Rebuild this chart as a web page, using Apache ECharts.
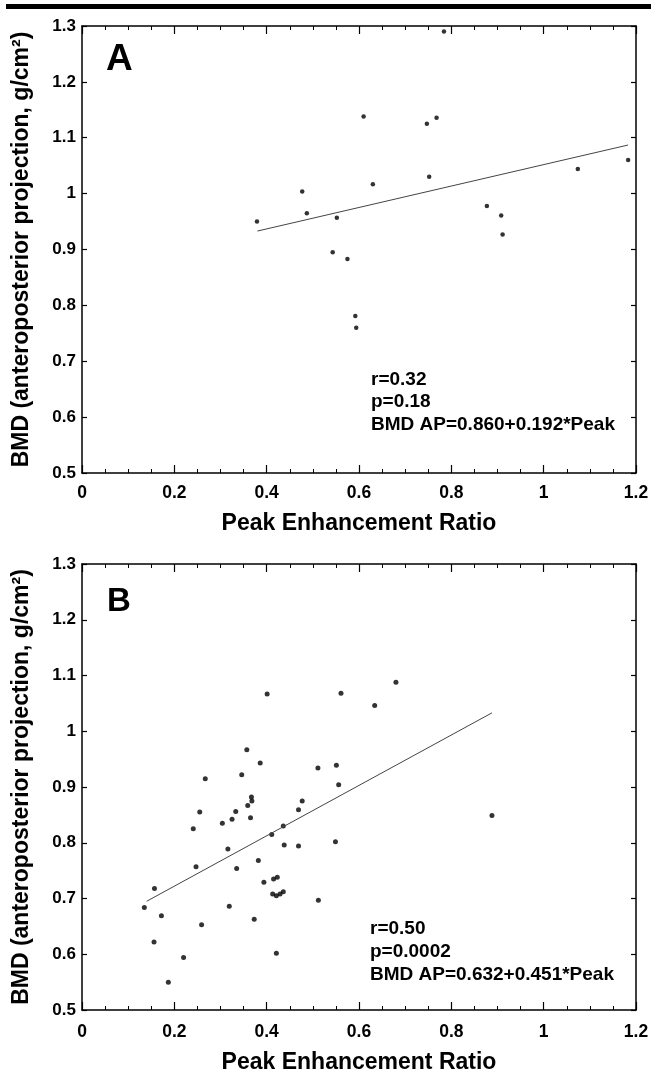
<!DOCTYPE html>
<html>
<head>
<meta charset="utf-8">
<script src="https://cdn.jsdelivr.net/npm/echarts@6/dist/echarts.min.js"></script>
<style>
  html, body { margin: 0; padding: 0; background: #fff; }
  #main { width: 651px; height: 1074px; }
</style>
</head>
<body>
<div id="main"></div>
<script>
// panel A: peak enhancement ratio vs BMD AP
const pointsA = [
  [0.379, 0.950], [0.477, 1.004], [0.487, 0.965], [0.552, 0.957], [0.543, 0.895],
  [0.575, 0.883], [0.610, 1.138], [0.630, 1.017], [0.784, 1.290], [0.747, 1.125],
  [0.768, 1.136], [0.752, 1.030], [0.877, 0.978], [0.908, 0.961], [0.911, 0.927],
  [1.074, 1.044], [1.183, 1.060], [0.592, 0.781], [0.594, 0.760]
];
const fitA = [[0.38, 0.933], [1.183, 1.087]];
const statsA = ['r=0.32', 'p=0.18', 'BMD AP=0.860+0.192*Peak'];

// panel B
const pointsB = [
  [0.401, 1.067], [0.561, 1.068], [0.634, 1.046], [0.680, 1.088], [0.357, 0.967],
  [0.386, 0.943], [0.511, 0.934], [0.551, 0.939], [0.267, 0.915], [0.346, 0.922],
  [0.556, 0.904], [0.367, 0.882], [0.368, 0.875], [0.359, 0.867], [0.477, 0.875],
  [0.469, 0.859], [0.333, 0.856], [0.255, 0.855], [0.365, 0.845], [0.325, 0.842],
  [0.304, 0.835], [0.241, 0.825], [0.436, 0.830], [0.888, 0.849], [0.411, 0.815],
  [0.316, 0.789], [0.438, 0.796], [0.469, 0.794], [0.549, 0.802], [0.382, 0.768],
  [0.247, 0.757], [0.335, 0.754], [0.157, 0.718], [0.394, 0.729], [0.415, 0.735],
  [0.423, 0.738], [0.413, 0.708], [0.421, 0.705], [0.429, 0.708], [0.436, 0.712],
  [0.512, 0.697], [0.135, 0.684], [0.319, 0.686], [0.172, 0.669], [0.373, 0.663],
  [0.259, 0.653], [0.156, 0.622], [0.421, 0.602], [0.220, 0.594], [0.187, 0.550]
];
const fitB = [[0.14, 0.695], [0.888, 1.033]];
const statsB = ['r=0.50', 'p=0.0002', 'BMD AP=0.632+0.451*Peak'];

const panelLabels = ['A', 'B'];
const xRange = [0, 1.2];
const yRange = [0.5, 1.3];
const xTitle = 'Peak Enhancement Ratio';
const yTitle = 'BMD (anteroposterior projection, g/cm\u00B2)';

const font = '"Liberation Sans", Arial, Helvetica, sans-serif';
const chart = echarts.init(document.getElementById('main'));

function xAxes(g, labelMargin, nameGap) {
  const base = {
    type: 'value', gridIndex: g, min: xRange[0], max: xRange[1], interval: 0.2,
    splitLine: { show: false },
    axisLine: { show: true, onZero: false, lineStyle: { color: '#000', width: 1.5 } },
    axisTick: { show: true, inside: true, length: 8, lineStyle: { color: '#000', width: 1.2 } },
    minorTick: { show: true, splitNumber: 4, length: 4, lineStyle: { color: '#000', width: 1 } }
  };
  return [
    Object.assign({}, base, {
      position: 'bottom',
      name: xTitle, nameLocation: 'middle', nameGap: nameGap,
      nameTextStyle: { fontFamily: font, fontWeight: 'bold', fontSize: 23, color: '#000' },
      axisLabel: { margin: labelMargin, fontFamily: font, fontWeight: 'bold', fontSize: 17.5, color: '#000' }
    }),
    Object.assign({}, base, { position: 'top', axisLabel: { show: false } })
  ];
}

function yAxes(g) {
  const base = {
    type: 'value', gridIndex: g, min: yRange[0], max: yRange[1], interval: 0.1,
    splitLine: { show: false },
    axisLine: { show: true, onZero: false, lineStyle: { color: '#000', width: 1.5 } },
    axisTick: { show: true, inside: true, length: 5, lineStyle: { color: '#000', width: 1.2 } }
  };
  return [
    Object.assign({}, base, {
      position: 'left',
      name: yTitle, nameLocation: 'middle', nameGap: 49, nameRotate: 90,
      nameTextStyle: { fontFamily: font, fontWeight: 'bold', fontSize: 23, color: '#000' },
      axisLabel: { margin: 6, fontFamily: font, fontWeight: 'bold', fontSize: 17, color: '#000' }
    }),
    Object.assign({}, base, { position: 'right', axisLabel: { show: false } })
  ];
}

function panelSeries(g, pts, fit, size) {
  return [
    {
      type: 'scatter', xAxisIndex: g * 2, yAxisIndex: g * 2, data: pts,
      symbol: 'circle', symbolSize: size, itemStyle: { color: '#000' }, silent: true
    },
    {
      type: 'line', xAxisIndex: g * 2, yAxisIndex: g * 2, data: fit,
      showSymbol: false, lineStyle: { color: '#444', width: 1 }, silent: true
    }
  ];
}

function statTexts(lines, x, y0, step) {
  return lines.map((t, i) => ({
    type: 'text', left: x, top: y0 + i * step,
    style: { text: t, fontFamily: font, fontWeight: 'bold', fontSize: 19, fill: '#000' }
  }));
}

chart.setOption({
  animation: false,
  backgroundColor: '#fff',
  grid: [
    { left: 82, right: 15, top: 26, height: 447, outerBoundsMode: 'none' },
    { left: 82, right: 15, top: 564, height: 446, outerBoundsMode: 'none' }
  ],
  xAxis: xAxes(0, 11, 39).concat(xAxes(1, 13, 41)),
  yAxis: yAxes(0).concat(yAxes(1)),
  series: panelSeries(0, pointsA, fitA, 4.5).concat(panelSeries(1, pointsB, fitB, 5)),
  graphic: [
    { type: 'rect', shape: { x: 6, y: 4, width: 645, height: 5 }, style: { fill: '#000' } },
    { type: 'text', left: 106, top: 41,
      style: { text: panelLabels[0], fontFamily: font, fontWeight: 'bold', fontSize: 37, fill: '#000' } },
    { type: 'text', left: 107, top: 585,
      style: { text: panelLabels[1], fontFamily: font, fontWeight: 'bold', fontSize: 33, fill: '#000' } }
  ].concat(statTexts(statsA, 371, 370, 22.5)).concat(statTexts(statsB, 370, 919, 23))
});
</script>
</body>
</html>
